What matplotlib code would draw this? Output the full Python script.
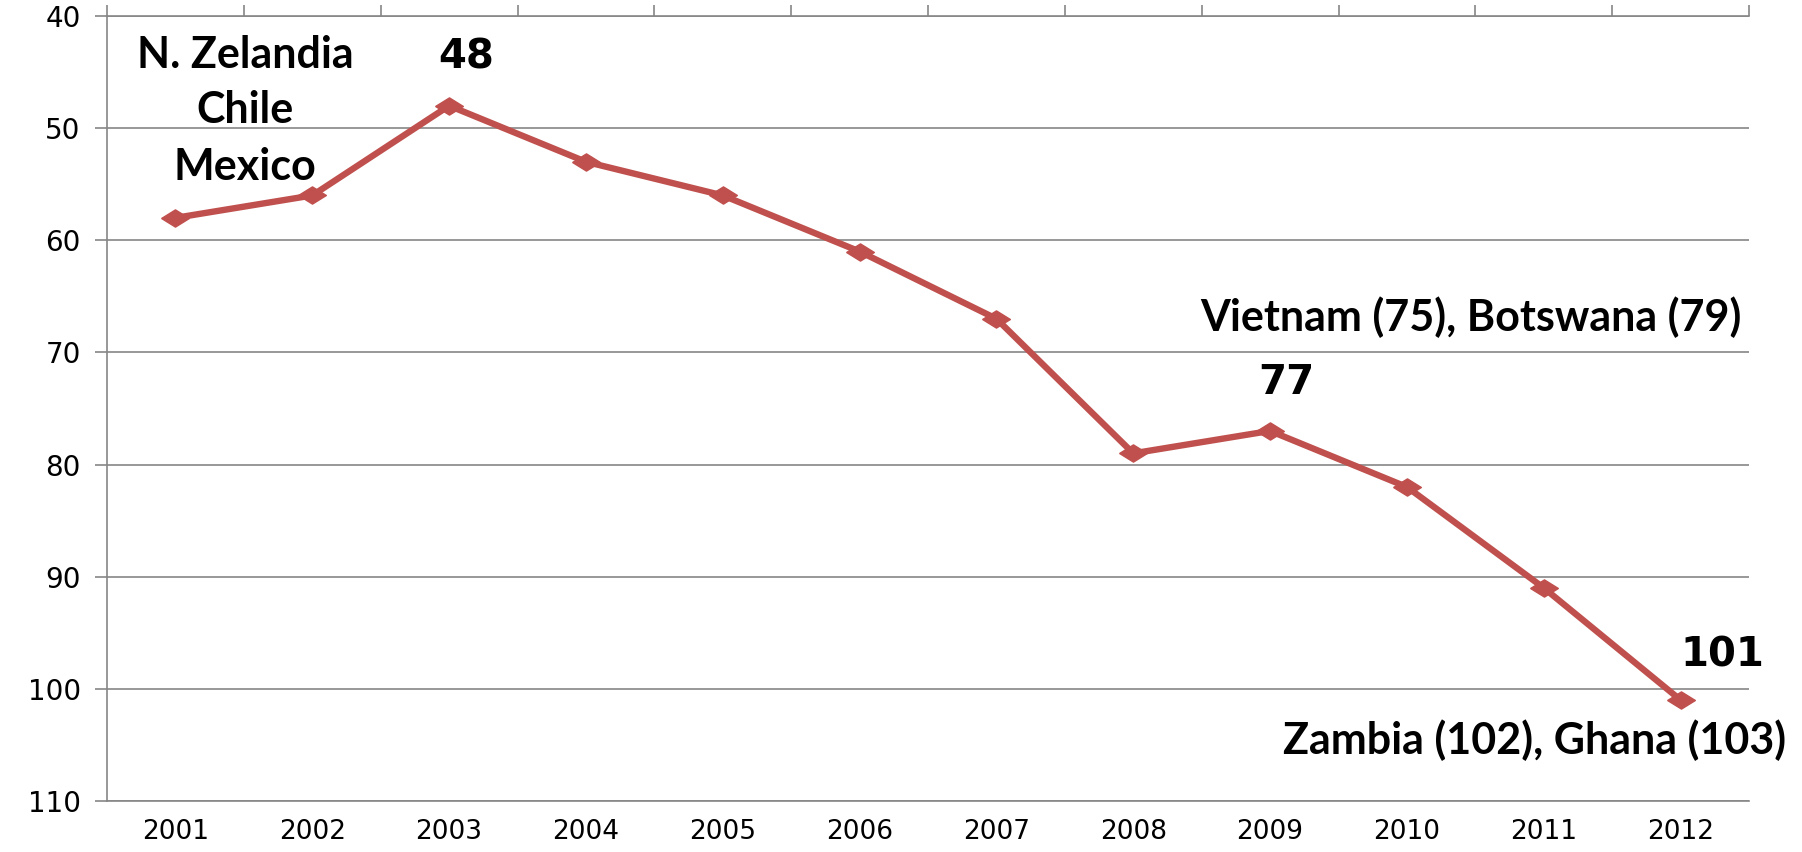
import matplotlib.pyplot as plt
import numpy as np

years = ['2001', '2002', '2003', '2004', '2005', '2006',
         '2007', '2008', '2009', '2010', '2011', '2012']
ranking = [58, 56, 48, 53, 56, 61, 67, 79, 77, 82, 91, 101]
labelled = {2: '48', 8: '77', 11: '101'}

red = '#C0504D'
grid_gray = '#868686'

# flattened diamond, like the Excel marker in the original
diamond = [(-1, 0), (0, 0.62), (1, 0), (0, -0.62), (-1, 0)]

fig = plt.figure(figsize=(18.02, 8.52), dpi=100)
ax = fig.add_axes([0.0594, 0.0599, 0.9112, 0.9213])

x = np.arange(len(years))
ax.plot(x, ranking, color=red, linewidth=4.6, marker=diamond, markersize=20,
        markerfacecolor=red, markeredgecolor=red, zorder=3)

ax.set_xlim(-0.5, len(years) - 0.5)
ax.set_ylim(110, 40)
ax.set_yticks(np.arange(40, 111, 10))
ax.yaxis.grid(True, color=grid_gray, linewidth=1.2)
ax.set_axisbelow(True)

# category labels along the bottom, tick marks at the category edges on top
ax.set_xticks(x)
ax.set_xticklabels(years)
ax.tick_params(axis='x', which='major', length=0, pad=13, labelsize=19)
ax.set_xticks(np.arange(-0.5, len(years)), minor=True)
ax.tick_params(axis='x', which='minor', top=True, bottom=False, direction='out',
               length=8, width=1.2, color=grid_gray)
ax.tick_params(axis='y', length=9, width=1.2, color=grid_gray, pad=10, labelsize=20)

for s in ['left', 'top', 'bottom']:
    ax.spines[s].set_color(grid_gray)
    ax.spines[s].set_linewidth(1.2)
ax.spines['right'].set_visible(False)

# value labels
offsets = {2: (12, 20), 8: (12, 20), 11: (30, 18)}
for i, txt in labelled.items():
    ax.annotate(txt, (x[i], ranking[i]), xytext=offsets[i], textcoords='offset points',
                ha='center', va='bottom', fontsize=29, fontweight='bold',
                family='DejaVu Sans')

# country notes
note_font = dict(family='Lato', fontweight='bold', fontsize=31, ha='center', va='center')
ax.text(0.51, 43.5, 'N. Zelandia', **note_font)
ax.text(0.51, 48.4, 'Chile', **note_font)
ax.text(0.51, 53.5, 'Mexico', **note_font)
ax.text(9.47, 66.9, 'Vietnam (75), Botswana (79)', **note_font)
ax.text(9.93, 104.6, 'Zambia (102), Ghana (103)', **note_font)

fig.savefig('out.png', dpi=100)
